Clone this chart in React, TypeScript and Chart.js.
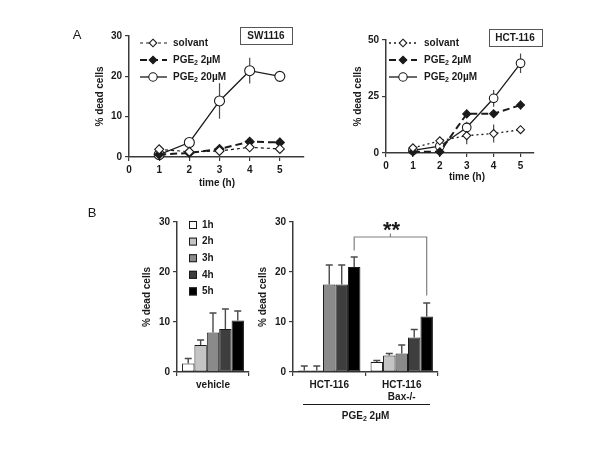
import React, { useEffect, useRef } from 'react';
import { Chart, registerables } from 'chart.js';

Chart.register(...registerables);

const FONT_FAMILY = "'Liberation Sans', Arial, Helvetica, sans-serif";
const INK = '#1a1a1a';
const AXIS_COLOR = '#3a3a3a';
const ERR_COLOR = '#4a4a4a';

// ---------- Panel A: time course ----------
const timeHours = [1, 2, 3, 4, 5];
const timeTicks = [0, 1, 2, 3, 4, 5];

// SW1116 (% dead cells, mean and SEM)
const swSolvant = [1.9, 1.3, 1.5, 2.4, 2.0];
const swSolvantSem = [0.4, 0.3, 0.3, 0.8, 0.3];
const swPge2uM = [0.6, 1.0, 2.0, 3.8, 3.6];
const swPge2uMSem = [0.2, 0.3, 0.4, 0.5, 1.2];
const swPge20uM = [0.6, 3.6, 13.9, 21.4, 20.0];
const swPge20uMSem = [0.3, 0.4, 4.4, 3.2, 0.5];
const swYTicks = [0, 10, 20, 30];

// HCT-116 (% dead cells, mean and SEM)
const hctSolvant = [2.3, 5.4, 7.7, 8.6, 10.3];
const hctSolvantSem = [0.8, 0.8, 3.8, 4.0, 1.5];
const hctPge2uM = [0.5, 0.5, 17.3, 17.4, 21.2];
const hctPge2uMSem = [0.3, 0.3, 1.5, 1.5, 2.0];
const hctPge20uM = [1.2, 3.0, 11.3, 24.2, 39.7];
const hctPge20uMSem = [0.5, 0.8, 2.5, 3.7, 4.3];
const hctYTicks = [0, 25, 50];

// ---------- Panel B: bars ----------
const hourLabels = ['1h', '2h', '3h', '4h', '5h'];
const hourColors = ['#ffffff', '#c4c4c4', '#8a8a8a', '#3e3e3e', '#000000'];
const vehicleGroups = ['vehicle'];
const vehicleMeans = [1.7, 5.4, 7.9, 8.6, 10.3];
const vehicleSem = [1.0, 1.0, 3.9, 4.0, 1.9];
const pgeGroups = ['HCT-116', ['HCT-116', 'Bax-/-']];
const hct116Means = [0.3, 0.3, 17.5, 17.5, 21.0];
const hct116Sem = [0.9, 0.9, 3.9, 3.9, 2.0];
const baxMeans = [2.0, 3.3, 3.7, 6.9, 11.1];
const baxSem = [0.3, 0.4, 1.7, 1.6, 2.7];
const barYTicks = [0, 10, 20, 30];

const font = (size: number, weight: any = 'bold') => ({ family: FONT_FAMILY, size, weight });

function drawPgeText(ctx: any, x: number, y: number, rest: string, size: number, align: string) {
  const main = `bold ${size}px ${FONT_FAMILY}`;
  const sub = `bold ${Math.round(size * 0.7)}px ${FONT_FAMILY}`;
  ctx.font = main;
  const w1 = ctx.measureText('PGE').width;
  const w3 = ctx.measureText(rest).width;
  ctx.font = sub;
  const w2 = ctx.measureText('2').width;
  const x0 = align === 'center' ? x - (w1 + w2 + w3) / 2 : x;
  ctx.textAlign = 'left';
  ctx.textBaseline = 'middle';
  ctx.fillStyle = INK;
  ctx.font = main;
  ctx.fillText('PGE', x0, y);
  ctx.font = sub;
  ctx.fillText('2', x0 + w1, y + 3);
  ctx.font = main;
  ctx.fillText(rest, x0 + w1 + w2, y);
}

function drawMarker(ctx: any, style: string, filled: boolean, x: number, y: number, r: number) {
  ctx.save();
  ctx.setLineDash([]);
  ctx.beginPath();
  if (style === 'circle') {
    ctx.arc(x, y, r, 0, Math.PI * 2);
  } else {
    ctx.moveTo(x, y - r);
    ctx.lineTo(x + r, y);
    ctx.lineTo(x, y + r);
    ctx.lineTo(x - r, y);
    ctx.closePath();
  }
  ctx.fillStyle = filled ? INK : '#ffffff';
  ctx.fill();
  ctx.lineWidth = 1.1;
  ctx.strokeStyle = INK;
  ctx.stroke();
  ctx.restore();
}

function drawVTitle(ctx: any, text: string, x: number, y: number) {
  ctx.save();
  ctx.translate(x, y);
  ctx.rotate(-Math.PI / 2);
  ctx.font = `bold 10px ${FONT_FAMILY}`;
  ctx.fillStyle = INK;
  ctx.textAlign = 'center';
  ctx.textBaseline = 'middle';
  ctx.fillText(text, 0, 0);
  ctx.restore();
}

function drawText(ctx: any, text: string, x: number, y: number, f: string, align = 'center') {
  ctx.save();
  ctx.font = f;
  ctx.fillStyle = INK;
  ctx.textAlign = align;
  ctx.textBaseline = 'middle';
  ctx.fillText(text, x, y);
  ctx.restore();
}

function axisOptions(tickValues: number[] | null, fixSize: (s: any) => void, extraGrid: any = {}) {
  const o: any = {
    grid: { drawOnChartArea: false, drawTicks: true, tickLength: 4, color: AXIS_COLOR, lineWidth: 1.2, ...extraGrid },
    border: { display: true, color: AXIS_COLOR, width: 1.5 },
    ticks: { font: font(10), color: INK, padding: 3, maxRotation: 0, autoSkip: false },
    afterFit: fixSize,
  };
  if (tickValues) {
    o.afterBuildTicks = (s: any) => {
      s.ticks = tickValues.map((v) => ({ value: v }));
    };
  }
  return o;
}

function lineConfig(p: any) {
  const datasets = p.series.map((s: any) => ({
    data: timeHours.map((x, i) => ({ x, y: s.data[i] })),
    borderColor: INK,
    borderWidth: s.width,
    borderDash: s.dash,
    pointStyle: s.style === 'diamond' ? 'rectRot' : 'circle',
    pointRadius: s.radius,
    pointBackgroundColor: s.filled ? INK : '#ffffff',
    pointBorderColor: INK,
    pointBorderWidth: 1.1,
    fill: false,
    tension: 0,
    clip: false,
  }));
  const deco = {
    id: 'lineDeco',
    beforeDatasetsDraw(chart: any) {
      const ctx = chart.ctx;
      const ys = chart.scales.y;
      ctx.save();
      ctx.strokeStyle = ERR_COLOR;
      ctx.lineWidth = 1.2;
      p.series.forEach((s: any, i: number) => {
        const meta = chart.getDatasetMeta(i);
        meta.data.forEach((pt: any, j: number) => {
          const lo = ys.getPixelForValue(Math.max(0, s.data[j] - s.sem[j]));
          const hi = ys.getPixelForValue(s.data[j] + s.sem[j]);
          ctx.beginPath();
          ctx.moveTo(pt.x, lo);
          ctx.lineTo(pt.x, hi);
          ctx.stroke();
        });
      });
      ctx.restore();
    },
    afterDraw(chart: any) {
      const ctx = chart.ctx;
      const ca = chart.chartArea;
      // legend
      p.series.forEach((s: any, i: number) => {
        const y = ca.top + p.legend.rows[i];
        ctx.save();
        ctx.strokeStyle = INK;
        ctx.lineWidth = s.width;
        ctx.setLineDash(s.dash);
        ctx.beginPath();
        ctx.moveTo(ca.left + p.legend.x0, y);
        ctx.lineTo(ca.left + p.legend.x1, y);
        ctx.stroke();
        ctx.restore();
        drawMarker(ctx, s.style, s.filled, ca.left + p.legend.mx, y, s.style === 'circle' ? 4.2 : 3.8);
        if (s.pge) {
          drawPgeText(ctx, ca.left + p.legend.tx, y, s.pge, 10, 'left');
        } else {
          drawText(ctx, s.label, ca.left + p.legend.tx, y, `bold 10px ${FONT_FAMILY}`, 'left');
        }
      });
      // cell line box
      const bx = ca.right + p.box.dx;
      const by = ca.top + p.box.dy;
      ctx.save();
      ctx.strokeStyle = '#555555';
      ctx.lineWidth = 1;
      ctx.strokeRect(Math.round(bx - p.box.w / 2) + 0.5, Math.round(by - p.box.h / 2) + 0.5, p.box.w, p.box.h);
      ctx.restore();
      drawText(ctx, p.box.text, bx, by + 0.5, `bold 10px ${FONT_FAMILY}`);
      // axis titles
      drawVTitle(ctx, '% dead cells', ca.left + p.yTitleDx, (ca.top + ca.bottom) / 2);
      drawText(ctx, 'time (h)', ca.left + p.xTitleDx, ca.bottom + p.xTitleDy, `bold 10px ${FONT_FAMILY}`);
      if (p.letter) drawText(ctx, p.letter.text, p.letter.x, p.letter.y, `13px ${FONT_FAMILY}`);
    },
  };
  return {
    type: 'line',
    data: { datasets },
    options: {
      animation: false,
      responsive: false,
      events: [],
      layout: { padding: { top: p.padTop, right: p.padRight, left: 0, bottom: 0 } },
      plugins: { legend: { display: false }, tooltip: { enabled: false }, title: { display: false } },
      scales: {
        x: {
          type: 'linear',
          min: 0,
          max: p.xMax,
          ...axisOptions(timeTicks, (s: any) => { s.height = p.xH; }),
        },
        y: {
          type: 'linear',
          min: 0,
          max: p.yMax,
          ...axisOptions(p.yTicks, (s: any) => { s.width = p.yW; }),
        },
      },
    },
    plugins: [deco],
  };
}

function barConfig(p: any) {
  const datasets = hourLabels.map((h, k) => ({
    label: h,
    data: p.groups.map((g: number[]) => g[k]),
    backgroundColor: hourColors[k],
    borderColor: INK,
    borderWidth: 1,
    borderSkipped: false,
    categoryPercentage: 0.86,
    barPercentage: 1,
  }));
  const deco = {
    id: 'barDeco',
    afterDatasetsDraw(chart: any) {
      const ctx = chart.ctx;
      const ys = chart.scales.y;
      ctx.save();
      ctx.strokeStyle = ERR_COLOR;
      ctx.lineWidth = 1.4;
      hourLabels.forEach((_, k) => {
        const meta = chart.getDatasetMeta(k);
        meta.data.forEach((bar: any, j: number) => {
          const mean = p.groups[j][k];
          const hi = ys.getPixelForValue(mean + p.sems[j][k]);
          ctx.beginPath();
          ctx.moveTo(bar.x, bar.y);
          ctx.lineTo(bar.x, hi);
          ctx.moveTo(bar.x - 3.5, hi);
          ctx.lineTo(bar.x + 3.5, hi);
          ctx.stroke();
        });
      });
      ctx.restore();
    },
    afterDraw(chart: any) {
      const ctx = chart.ctx;
      const ca = chart.chartArea;
      const ys = chart.scales.y;
      drawVTitle(ctx, '% dead cells', ca.left - 30, (ca.top + ca.bottom) / 2);
      if (p.legend) {
        hourLabels.forEach((h, k) => {
          const y = ca.top + 3 + k * 16.6;
          ctx.save();
          ctx.fillStyle = hourColors[k];
          ctx.fillRect(ca.left + 12, y - 4, 8, 8);
          ctx.strokeStyle = INK;
          ctx.lineWidth = 1;
          ctx.strokeRect(ca.left + 12.5, y - 3.5, 7, 7);
          ctx.restore();
          drawText(ctx, h, ca.left + 25, y, `bold 10px ${FONT_FAMILY}`, 'left');
        });
      }
      if (p.letter) drawText(ctx, p.letter.text, p.letter.x, p.letter.y, `13px ${FONT_FAMILY}`);
      if (p.bracket) {
        const meta = chart.getDatasetMeta(hourLabels.length - 1);
        const xl = meta.data[0].x;
        const xr = meta.data[1].x;
        const yTop = ys.getPixelForValue(27);
        const yL = ys.getPixelForValue(24.3);
        const yR = ys.getPixelForValue(15.3);
        const xm = (xl + xr) / 2;
        ctx.save();
        ctx.strokeStyle = '#808080';
        ctx.lineWidth = 1.2;
        ctx.beginPath();
        ctx.moveTo(xl, yL);
        ctx.lineTo(xl, yTop);
        ctx.lineTo(xr, yTop);
        ctx.lineTo(xr, yR);
        ctx.moveTo(xm, yTop);
        ctx.lineTo(xm, yTop - 3.5);
        ctx.stroke();
        ctx.font = `bold 22px ${FONT_FAMILY}`;
        ctx.fillStyle = INK;
        ctx.textAlign = 'center';
        ctx.textBaseline = 'alphabetic';
        ctx.fillText('**', xm + 1, yTop - 0.5);
        // treatment underline
        ctx.strokeStyle = INK;
        ctx.lineWidth = 1;
        ctx.beginPath();
        ctx.moveTo(ca.left + 10, ca.bottom + 32.5);
        ctx.lineTo(ca.left + 137, ca.bottom + 32.5);
        ctx.stroke();
        ctx.restore();
        drawPgeText(ctx, (ca.left + ca.right) / 2, ca.bottom + 44, ' 2µM', 10, 'center');
      }
    },
  };
  return {
    type: 'bar',
    data: { labels: p.labels, datasets },
    options: {
      animation: false,
      responsive: false,
      events: [],
      layout: { padding: { top: p.padTop, right: p.padRight, left: 0, bottom: 0 } },
      plugins: { legend: { display: false }, tooltip: { enabled: false }, title: { display: false } },
      scales: {
        x: {
          type: 'category',
          ...axisOptions(null, (s: any) => { s.height = p.xH; }, { offset: true }),
        },
        y: {
          type: 'linear',
          min: 0,
          max: 30,
          ...axisOptions(barYTicks, (s: any) => { s.width = p.yW; }),
        },
      },
    },
    plugins: [deco],
  };
}

const swPanel = {
  series: [
    { label: 'solvant', data: swSolvant, sem: swSolvantSem, dash: [3, 3], width: 1.2, style: 'diamond', filled: false, radius: 4.5 },
    { pge: ' 2µM', data: swPge2uM, sem: swPge2uMSem, dash: [7, 4], width: 2, style: 'diamond', filled: true, radius: 4.5 },
    { pge: ' 20µM', data: swPge20uM, sem: swPge20uMSem, dash: [], width: 1.3, style: 'circle', filled: false, radius: 5 },
  ],
  xMax: 5.8, yMax: 30, yTicks: swYTicks,
  yW: 69, xH: 43, padTop: 16, padRight: 16,
  legend: { rows: [7, 24, 41], x0: 11, x1: 38, mx: 24, tx: 44 },
  box: { text: 'SW1116', dx: -38, dy: -0.5, w: 52, h: 17 },
  yTitleDx: -29, xTitleDx: 88, xTitleDy: 26,
  letter: { text: 'A', x: 17, y: 15 },
};

const hctPanel = {
  series: [
    { label: 'solvant', data: hctSolvant, sem: hctSolvantSem, dash: [2, 3], width: 1.3, style: 'diamond', filled: false, radius: 4 },
    { pge: ' 2µM', data: hctPge2uM, sem: hctPge2uMSem, dash: [7, 4], width: 2, style: 'diamond', filled: true, radius: 4 },
    { pge: ' 20µM', data: hctPge20uM, sem: hctPge20uMSem, dash: [], width: 1.3, style: 'circle', filled: false, radius: 4.3 },
  ],
  xMax: 5.5, yMax: 50, yTicks: hctYTicks,
  yW: 86, xH: 47, padTop: 20, padRight: 26,
  legend: { rows: [3, 20, 37], x0: 3, x1: 31, mx: 17, tx: 38 },
  box: { text: 'HCT-116', dx: -19, dy: -2.7, w: 53, h: 17 },
  yTitleDx: -28, xTitleDx: 81, xTitleDy: 24,
  letter: null,
};

const vehiclePanel = {
  labels: vehicleGroups,
  groups: [vehicleMeans],
  sems: [vehicleSem],
  yW: 117, xH: 28, padTop: 22, padRight: 21,
  legend: true,
  bracket: false,
  letter: { text: 'B', x: 32, y: 13 },
};

const pgePanel = {
  labels: pgeGroups,
  groups: [hct116Means, baxMeans],
  sems: [hct116Sem, baxSem],
  yW: 43, xH: 58, padTop: 22, padRight: 32,
  legend: false,
  bracket: true,
  letter: null,
};

export default function App() {
  const a1 = useRef<HTMLCanvasElement>(null);
  const a2 = useRef<HTMLCanvasElement>(null);
  const b1 = useRef<HTMLCanvasElement>(null);
  const b2 = useRef<HTMLCanvasElement>(null);

  useEffect(() => {
    const charts = [
      new Chart(a1.current as any, lineConfig(swPanel) as any),
      new Chart(a2.current as any, lineConfig(hctPanel) as any),
      new Chart(b1.current as any, barConfig(vehiclePanel) as any),
      new Chart(b2.current as any, barConfig(pgePanel) as any),
    ];
    return () => charts.forEach((c) => c.destroy());
  }, []);

  const abs = (left: number, top: number) => ({ position: 'absolute' as const, left, top });

  return (
    <div style={{ position: 'fixed', left: 0, top: 0, width: 600, height: 450, background: '#ffffff', overflow: 'hidden' }}>
      <canvas ref={a1} width={260} height={180} style={abs(60, 20)} />
      <canvas ref={a2} width={260} height={180} style={abs(300, 20)} />
      <canvas ref={b1} width={210} height={200} style={abs(60, 200)} />
      <canvas ref={b2} width={220} height={230} style={abs(250, 200)} />
    </div>
  );
}
